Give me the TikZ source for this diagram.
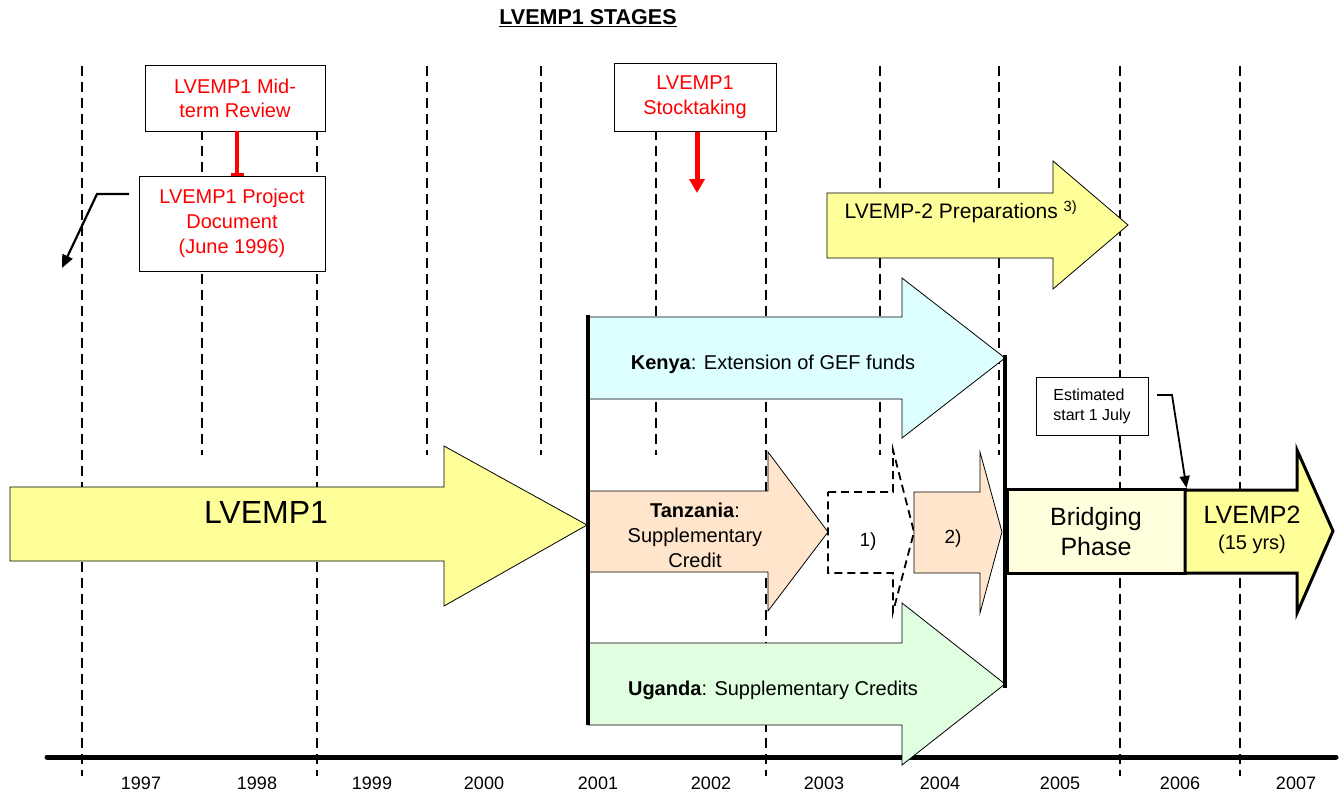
\documentclass[tikz,border=0pt]{standalone}
\usepackage{fontspec}
\setmainfont{Liberation Sans}
\usetikzlibrary{arrows.meta}
\definecolor{ylw}{HTML}{FFFF99}
\definecolor{kenyac}{HTML}{DDFFFF}
\definecolor{tanzc}{HTML}{FFE5CC}
\definecolor{ugac}{HTML}{E0FFE0}
\definecolor{bridgec}{HTML}{FFFFDD}
\newcommand{\blockarrow}[9]{%
  \draw[#1] (#2,#3) -- (#5,#3) -- (#5,#6) -- (#8,#9) -- (#5,#7) -- (#5,#4) -- (#2,#4) -- cycle;}
\begin{document}
\begin{tikzpicture}[x=1pt,y=-1pt,
  vdash/.style={line width=1.6pt, dash pattern=on 10pt off 6pt},
  shp/.style={draw, line width=0.8pt},
  txt/.style={font=\fontsize{20}{25}\selectfont, align=center, inner sep=0pt},
  redtxt/.style={txt, text=red},
  wbox/.style={draw, fill=white, line width=0.8pt, inner sep=0pt},
  yeartxt/.style={font=\fontsize{18}{20}\selectfont, inner sep=0pt},
]
\useasboundingbox (0,0) rectangle (1341,795);

% dashed year separators
\foreach \x in {82,317,766,1120,1240} \draw[vdash] (\x,66) -- (\x,776);
\foreach \x in {202,427,541,656,880,999} \draw[vdash] (\x,66) -- (\x,455);

% axis
\draw[line width=5pt, line cap=round] (47,757) -- (1336,757);
\foreach \yr/\x in {1997/141,1998/257,1999/372,2000/484,2001/598,2002/711,2003/824,2004/940,2005/1060,2006/1180,2007/1296}
  \node[yeartxt] (yr\yr) at (\x,783) {\yr};

% block arrows
\blockarrow{shp, fill=kenyac}{588}{317}{399}{902}{278}{438}{1005}{358}
\blockarrow{shp, fill=tanzc}{588}{491}{572}{768}{452}{611}{828}{532}
\blockarrow{fill=white, draw, line width=1.8pt, dash pattern=on 8pt off 5pt}{828}{492}{573}{893}{450}{612}{914}{532}
\blockarrow{shp, fill=tanzc}{914}{492}{573}{980}{452}{613}{1002}{532}
\blockarrow{shp, fill=ugac}{588}{643}{725}{902}{603}{765}{1005}{684}
\blockarrow{shp, fill=ylw}{10}{487}{561}{444}{446}{606}{587}{525}
\blockarrow{shp, fill=ylw}{827}{193}{258}{1053}{161}{289}{1128}{225}

% thick bounding lines
\draw[line width=4pt] (588,315) -- (588,725);
\draw[line width=4pt] (1005,355) -- (1005,688);

% bridging phase and LVEMP2
\node[draw, line width=3pt, fill=bridgec, minimum width=178pt, minimum height=84pt, inner sep=0pt,
      font=\fontsize{25}{30}\selectfont, align=center] (bridge) at (1096,531.5) {Bridging\\Phase};
\blockarrow{draw, line width=3pt, fill=ylw}{1185}{490}{573}{1297}{450}{613}{1333}{531}

% texts in arrows
\node[inner sep=0pt, font=\fontsize{32}{38}\selectfont] (lv1) at (266,512) {LVEMP1};
\node[txt] (kenya) at (773,364) {\textbf{Kenya}: Extension of GEF funds};
\node[txt] (tanz) at (695,535) {\textbf{Tanzania}:\\Supplementary\\Credit};
\node[txt] (uganda) at (773,690) {\textbf{Uganda}: Supplementary Credits};
\node[txt, font=\fontsize{19}{22}\selectfont] (one) at (868,542) {1)};
\node[txt, font=\fontsize{19}{22}\selectfont] (two) at (953,539) {2)};
\node[txt, font=\fontsize{21}{25}\selectfont] (prep) at (961,212) {LVEMP-2 Preparations \textsuperscript{3)}};
\node[inner sep=0pt, font=\fontsize{25}{28}\selectfont] (lv2a) at (1252,515) {LVEMP2};
\node[inner sep=0pt, font=\fontsize{20}{24}\selectfont] (lv2b) at (1252,544) {(15 yrs)};

% boxes
\node[wbox, minimum width=180pt, minimum height=66pt, redtxt, font=\fontsize{20}{24}\selectfont] (mid) at (235,98) {LVEMP1 Mid-\\term Review};
\node[wbox, minimum width=186pt, minimum height=95pt, redtxt] (doc) at (232,223.5) {LVEMP1 Project\\Document\\(June 1996)};
\node[wbox, minimum width=162pt, minimum height=68pt, redtxt] (stock) at (695,97.5) {LVEMP1\\Stocktaking};
\node[wbox, minimum width=112pt, minimum height=58pt, font=\fontsize{16}{20}\selectfont, align=left] (est) at (1092,406) {Estimated\\start 1 July};

% connectors
\draw[red, line width=4pt, -{Bar[width=13pt, line width=2.5pt]}] ([xshift=2pt]mid.south) -- ([xshift=2pt]mid.south |- doc.north);
\coordinate (stockend) at (697,193);
\draw[red, line width=5pt, -{Triangle[width=15pt, length=14pt]}] ([xshift=2pt]stock.south) -- (stockend);
\coordinate (docstart) at (129,194);
\coordinate (docend) at (62,268);
\draw[line width=2.2pt, -{Triangle[width=11pt, length=13pt]}] (docstart) -- (97,194) -- (docend);
\coordinate (eststart) at (1157,395);
\draw[line width=1.8pt, -{Triangle[width=10pt, length=12pt]}] (eststart) -- (1172,395) -- (bridge.north east);

% title
\node[inner sep=0pt, font=\bfseries\fontsize{21.5}{25}\selectfont] (title) at (588,18) {\underline{LVEMP1 STAGES}};
\end{tikzpicture}
\end{document}
